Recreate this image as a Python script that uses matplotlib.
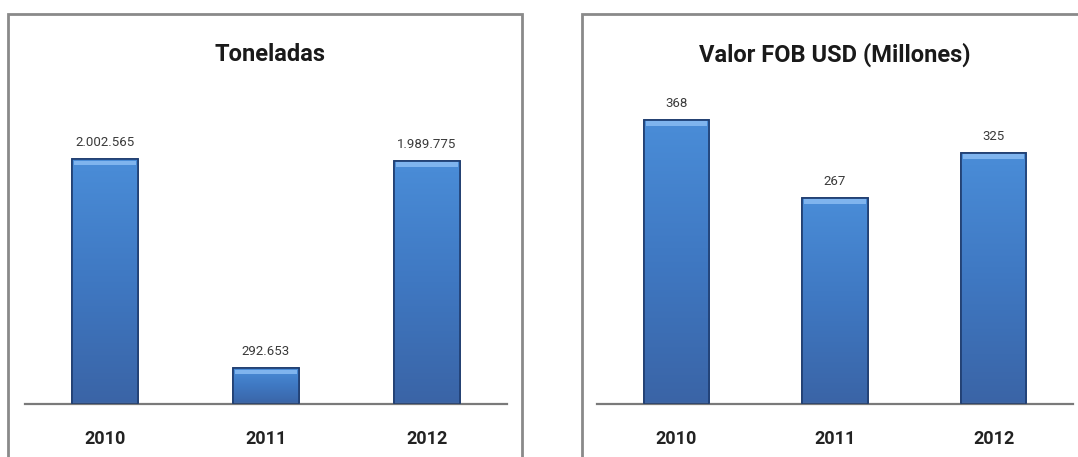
import matplotlib
matplotlib.use("Agg")
import matplotlib.pyplot as plt
import numpy as np
from matplotlib.patches import Rectangle
from matplotlib.colors import LinearSegmentedColormap

# ---- data ----
years = ["2010", "2011", "2012"]
toneladas = [2002565, 292653, 1989775]
toneladas_labels = ["2.002.565", "292.653", "1.989.775"]
fob = [368, 267, 325]
fob_labels = ["368", "267", "325"]
title_left = "Toneladas"
title_right = "Valor FOB USD (Millones)"

W, H = 1078, 457
fig = plt.figure(figsize=(W / 100, H / 100), dpi=100)
fig.patch.set_facecolor("white")

FONT = ["Liberation Sans Narrow", "Roboto", "DejaVu Sans"]

def px(x0, y0_top, w, h):
    """Convert pixel box (top-left origin) into figure fraction rect."""
    return [x0 / W, (H - y0_top - h) / H, w / W, h / H]

# panel borders
for (x0, x1) in [(8, 522), (582, 1090)]:
    fig.patches.append(Rectangle((x0 / W, -0.2), (x1 - x0) / W, (H - 14) / H + 0.2,
                                 transform=fig.transFigure, fill=False,
                                 edgecolor="#8a8a8a", linewidth=2.0, zorder=0))

grad_cmap = LinearSegmentedColormap.from_list("barblue", ["#3a64a6", "#3f78c2", "#4a8dd8"])
grad = np.linspace(0, 1, 256).reshape(-1, 1)

def draw(ax, values, labels, title, ymax, title_x):
    x = np.arange(len(values))
    bars = ax.bar(x, values, width=0.41, color="#3f7cc6", edgecolor="#1f3d70",
                  linewidth=1.2, zorder=2)
    for b in bars:
        bx, by = b.get_x(), b.get_y()
        bw, bh = b.get_width(), b.get_height()
        im = ax.imshow(grad, cmap=grad_cmap, aspect="auto", origin="lower",
                       extent=[bx, bx + bw, by, by + bh], zorder=2.5)
        im.set_clip_path(b)
        # top bevel highlight
        hl = ymax * 0.012
        ax.add_patch(Rectangle((bx + bw * 0.03, by + bh - hl * 1.3), bw * 0.94, hl,
                               facecolor="#7fb4ee", edgecolor="none", zorder=3))
        bb = Rectangle((bx, by), bw, bh, fill=False, edgecolor="#1f3d70",
                       linewidth=1.2, zorder=4)
        ax.add_patch(bb)
    for xi, v, lab in zip(x, values, labels):
        ax.annotate(lab, (xi, v), xytext=(0, 12), textcoords="offset points",
                    ha="center", va="center", fontsize=9.5, color="#3a3a3a",
                    family=FONT)
    ax.set_xlim(-0.5, len(values) - 0.5)
    ax.set_ylim(0, ymax)
    ax.set_xticks(x)
    ax.set_xticklabels(years, fontsize=13, fontweight="bold", color="#222222",
                       family=FONT)
    ax.tick_params(axis="x", length=0, pad=19)
    ax.set_yticks([])
    for s in ["top", "right", "left"]:
        ax.spines[s].set_visible(False)
    ax.spines["bottom"].set_color("#7a7a7a")
    ax.spines["bottom"].set_linewidth(1.6)
    ax.set_facecolor("none")
    ax.text(title_x, 0.895, title, transform=ax.transAxes, ha="center", va="center",
            fontsize=17, fontweight="bold", color="#1a1a1a", family=FONT)

axL = fig.add_axes(px(25, 14, 482, 390))
draw(axL, toneladas, toneladas_labels, title_left, 3.19e6, 0.508)

axR = fig.add_axes(px(597, 14, 476, 390))
draw(axR, fob, fob_labels, title_right, 505, 0.5)

fig.savefig("out.png", dpi=100, facecolor="white")
